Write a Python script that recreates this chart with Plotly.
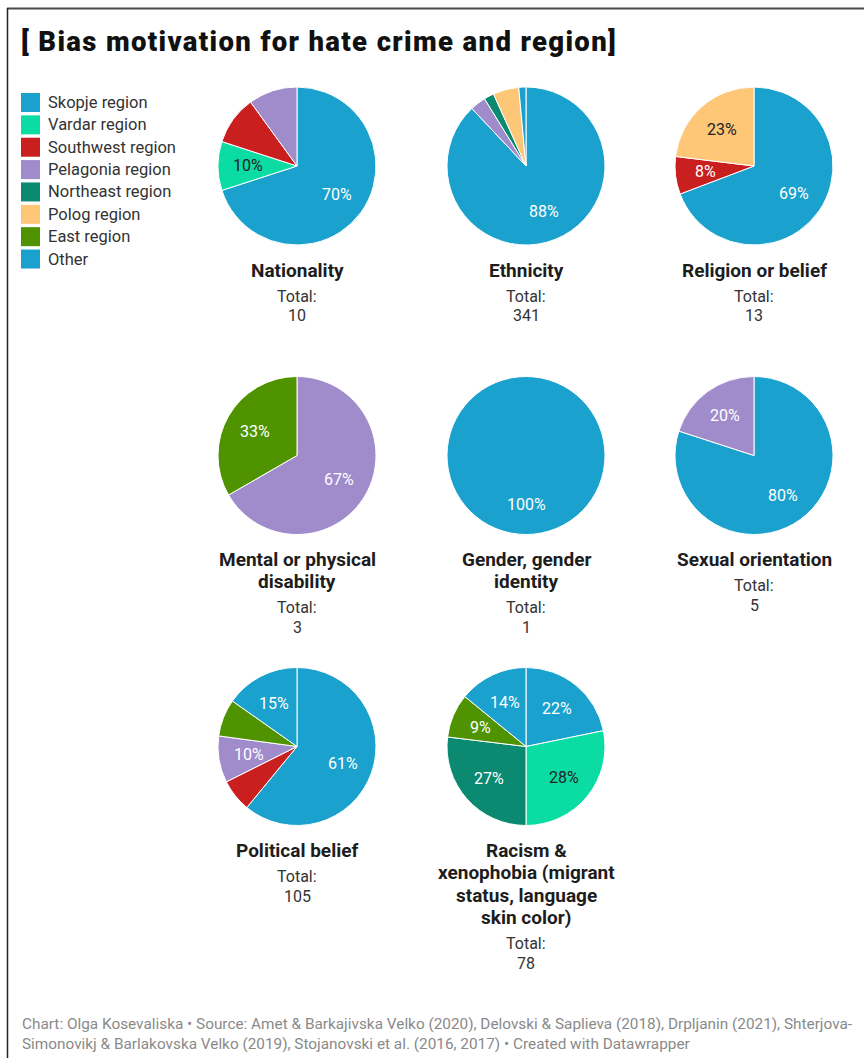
import math
import plotly.graph_objects as go

W, H = 864, 1058

# Regions and their colours
regions = ["Skopje region", "Vardar region", "Southwest region", "Pelagonia region",
           "Northeast region", "Polog region", "East region", "Other"]
region_colors = ["#1aa1cd", "#0bdca4", "#c91f1f", "#a08bcb",
                 "#0b8a71", "#fec677", "#4f9400", "#1aa1cd"]
dark_text_regions = {"Vardar region", "Polog region"}

# Bias motivations (title lines), case counts per region and totals
motivations = [["Nationality"], ["Ethnicity"], ["Religion or belief"],
               ["Mental or physical", "disability"], ["Gender, gender", "identity"],
               ["Sexual orientation"], ["Political belief"],
               ["Racism &amp;", "xenophobia (migrant", "status, language", "skin color)"]]
totals = [10, 341, 13, 3, 1, 5, 105, 78]

nationality_regions = ["Skopje region", "Vardar region", "Southwest region", "Pelagonia region"]
nationality_counts = [7, 1, 1, 1]
nationality_labeled = [True, True, False, False]

ethnicity_regions = ["Skopje region", "Pelagonia region", "Northeast region", "Polog region", "Other"]
ethnicity_counts = [300, 11, 7, 18, 5]
ethnicity_labeled = [True, False, False, False, False]

religion_regions = ["Skopje region", "Southwest region", "Polog region"]
religion_counts = [9, 1, 3]
religion_labeled = [True, True, True]

disability_regions = ["Pelagonia region", "East region"]
disability_counts = [2, 1]
disability_labeled = [True, True]

gender_regions = ["Skopje region"]
gender_counts = [1]
gender_labeled = [True]

orientation_regions = ["Skopje region", "Pelagonia region"]
orientation_counts = [4, 1]
orientation_labeled = [True, True]

political_regions = ["Skopje region", "Southwest region", "Pelagonia region", "East region", "Other"]
political_counts = [64, 7, 10, 8, 16]
political_labeled = [True, False, True, False, True]

racism_regions = ["Skopje region", "Vardar region", "Northeast region", "East region", "Other"]
racism_counts = [17, 22, 21, 7, 11]
racism_labeled = [True, True, True, True, True]

pie_data = [
    (nationality_regions, nationality_counts, nationality_labeled),
    (ethnicity_regions, ethnicity_counts, ethnicity_labeled),
    (religion_regions, religion_counts, religion_labeled),
    (disability_regions, disability_counts, disability_labeled),
    (gender_regions, gender_counts, gender_labeled),
    (orientation_regions, orientation_counts, orientation_labeled),
    (political_regions, political_counts, political_labeled),
    (racism_regions, racism_counts, racism_labeled),
]

# Grid layout in pixels
col_x = [297, 526, 754]
row_y = [166, 455.5, 746.5]
R = 79
LABEL_RADIUS = 0.62  # fraction of the radius where slice labels sit

FONT = "Roboto, 'Open Sans', sans-serif"
color_of = dict(zip(regions, region_colors))


def px_x(v):
    return v / W


def px_y(v):
    return 1 - v / H


def text_at(x, y, text, size, color, anchor="center", **kw):
    fig.add_annotation(
        x=px_x(x), y=px_y(y), xref="paper", yref="paper",
        xanchor=anchor, yanchor="middle", showarrow=False,
        text=text, font=dict(family=FONT, size=size, color=color), **kw,
    )


fig = go.Figure()

for i, (labs, vals, labeled) in enumerate(pie_data):
    cx, cy = col_x[i % 3], row_y[i // 3]
    tot = sum(vals)
    fig.add_trace(go.Pie(
        labels=labs,
        values=vals,
        textinfo="none",
        marker=dict(colors=[color_of[l] for l in labs], line=dict(color="#ffffff", width=1)),
        sort=False,
        direction="clockwise",
        rotation=0,
        showlegend=False,
        domain=dict(x=[px_x(cx - R), px_x(cx + R)], y=[px_y(cy + R), px_y(cy - R)]),
        hovertemplate="%{label}: %{value}<extra></extra>",
    ))

    # Percentage labels placed on each slice's bisector
    cum = 0
    for lab, v, show in zip(labs, vals, labeled):
        mid = (cum + v / 2) / tot * 2 * math.pi
        cum += v
        if not show:
            continue
        lx = cx + LABEL_RADIUS * R * math.sin(mid)
        ly = cy - LABEL_RADIUS * R * math.cos(mid)
        text_at(lx, ly, f"{round(v / tot * 100)}%", 16,
                "#222222" if lab in dark_text_regions else "#ffffff")

    # Motivation title (one annotation per line) and total below each pie
    y = cy + R + 25
    for line in motivations[i]:
        text_at(cx, y, f"<b>{line}</b>", 19, "#1d1d1d")
        y += 22.3
    y += 26 - 22.3
    text_at(cx, y, "Total:", 16, "#333333")
    text_at(cx, y + 20, str(totals[i]), 16, "#333333")

# Legend: colour squares with region names
LEG_TOP, LEG_STEP, SQ = 93, 22.36, 19
for k, (name, col) in enumerate(zip(regions, region_colors)):
    top = LEG_TOP + k * LEG_STEP
    fig.add_shape(type="rect", xref="paper", yref="paper",
                  x0=px_x(21), x1=px_x(21 + SQ), y0=px_y(top + SQ), y1=px_y(top),
                  fillcolor=col, line=dict(width=0))
    text_at(46, top + SQ / 2, name, 16.5, "#333333", anchor="left")

fig.update_layout(
    width=W, height=H,
    margin=dict(l=0, r=0, t=0, b=0),
    paper_bgcolor="#ffffff",
    plot_bgcolor="#ffffff",
    showlegend=False,
)

# Title
fig.add_annotation(
    x=px_x(19), y=px_y(41), xref="paper", yref="paper",
    xanchor="left", yanchor="middle", showarrow=False,
    text=("<span style='letter-spacing:1.35px'>[ Bias motivation for hate crime and region]</span>"),
    font=dict(family="Roboto, sans-serif", size=27.5, color="#111111", weight=900),
)

# Footer
fig.add_annotation(
    x=px_x(20), y=px_y(1034), xref="paper", yref="paper",
    xanchor="left", yanchor="middle", showarrow=False, align="left",
    text=("Chart: Olga Kosevaliska • Source: Amet &amp; Barkajivska Velko (2020), Delovski &amp; Saplieva (2018), "
          "Drpljanin (2021), Shterjova-<br>Simonovikj &amp; Barlakovska Velko (2019), Stojanovski et al. (2016, 2017) "
          "• Created with Datawrapper"),
    font=dict(family=FONT, size=15.35, color="#8a8a8a"),
)

# Frame lines
fig.add_shape(type="line", xref="paper", yref="paper",
              x0=px_x(7), x1=1, y0=px_y(8.5), y1=px_y(8.5),
              line=dict(color="#4a4a4a", width=2))
fig.add_shape(type="line", xref="paper", yref="paper",
              x0=px_x(7.5), x1=px_x(7.5), y0=px_y(8), y1=0,
              line=dict(color="#222222", width=1.5))

fig.write_html("out.html")
